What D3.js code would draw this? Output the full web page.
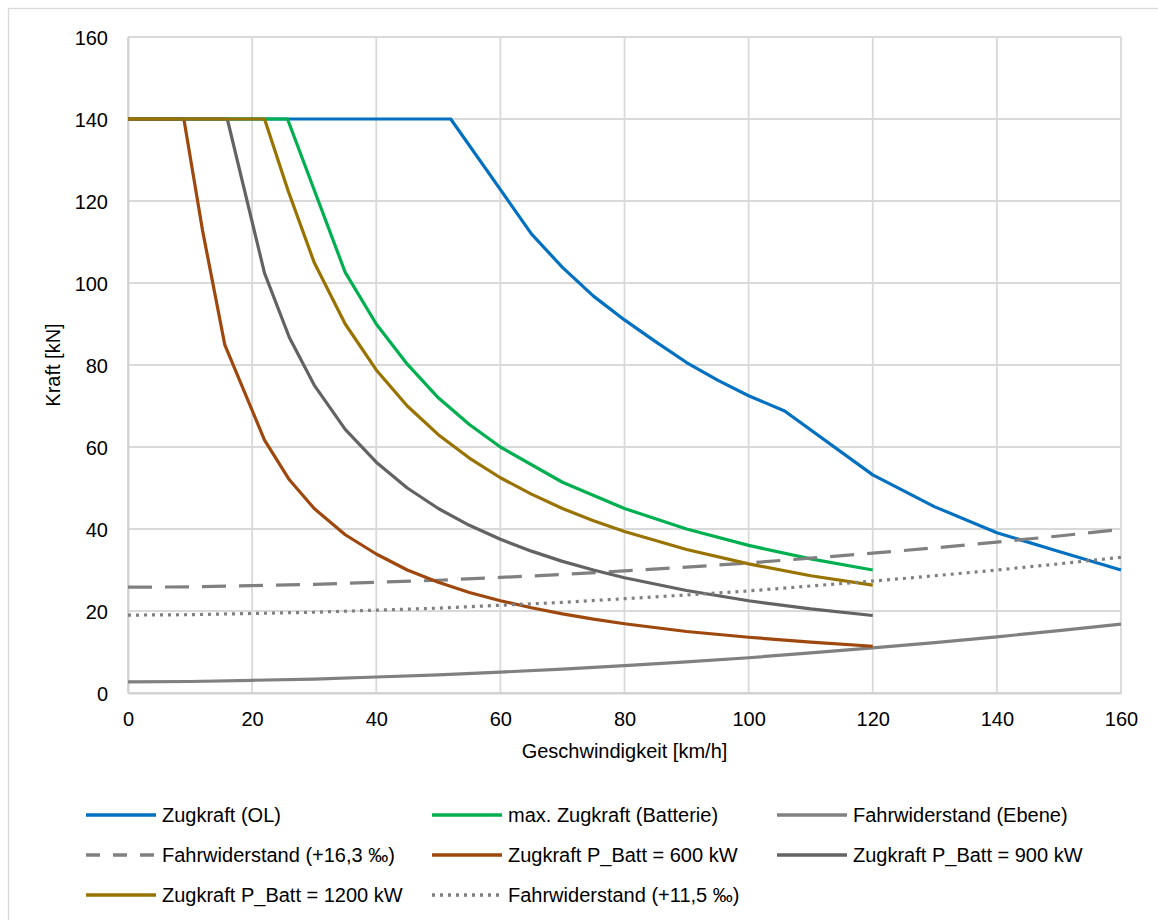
<!DOCTYPE html>
<html>
<head>
<meta charset="utf-8">
<script src="https://cdnjs.cloudflare.com/ajax/libs/d3/7.8.5/d3.min.js"></script>
<style>
  html, body { margin: 0; padding: 0; background: #ffffff; }
  svg { display: block; }
  text { font-family: "Liberation Sans", Arial, sans-serif; fill: #000; }
</style>
</head>
<body>
<svg id="chart" width="1158" height="920"></svg>
<script>
// ---- data ----
const xTicks = [0, 20, 40, 60, 80, 100, 120, 140, 160];
const yTicks = [0, 20, 40, 60, 80, 100, 120, 140, 160];

const speedOL = [0, 52, 65, 70, 75, 80, 85, 90, 95, 100, 105.8, 120, 130, 140, 150, 160];
const forceOL = [140, 140, 112, 103.8, 96.8, 91, 85.7, 80.6, 76.3, 72.5, 68.8, 53.2, 45.4, 39.1, 34.5, 30.0];

const speedBatt = [0, 25.7, 35, 40, 45, 50, 55, 60, 70, 80, 90, 100, 110, 120];
const forceBatt = [140, 140, 102.6, 90, 80.2, 72, 65.5, 60, 51.4, 45, 40, 36, 32.7, 30];

const speedRes = [0, 10, 20, 30, 40, 50, 60, 70, 80, 90, 100, 110, 120, 130, 140, 150, 160];
const resEbene = [2.7, 2.8, 3.1, 3.4, 3.9, 4.4, 5.1, 5.8, 6.7, 7.6, 8.6, 9.8, 11.0, 12.3, 13.7, 15.2, 16.8];
const res163 = [25.8, 25.9, 26.2, 26.5, 27.0, 27.5, 28.2, 28.9, 29.8, 30.7, 31.7, 32.9, 34.1, 35.4, 36.8, 38.3, 39.9];
const res115 = [19.0, 19.1, 19.4, 19.7, 20.2, 20.7, 21.4, 22.1, 23.0, 23.9, 24.9, 26.1, 27.3, 28.6, 30.0, 31.5, 33.1];

const speed600 = [0, 9, 12, 15.6, 22, 26, 30, 35, 40, 45, 50, 55, 60, 65, 70, 75, 80, 90, 100, 110, 120];
const force600 = [140, 140, 112.9, 84.9, 61.7, 52, 45, 38.6, 33.9, 30, 27, 24.5, 22.5, 20.8, 19.3, 18, 16.9, 15, 13.6, 12.4, 11.4];

const speed900 = [0, 16, 22, 26, 30, 35, 40, 45, 50, 55, 60, 65, 70, 75, 80, 90, 100, 110, 120];
const force900 = [140, 140, 102.4, 86.7, 75.1, 64.3, 56.3, 50, 45, 40.9, 37.5, 34.6, 32.1, 30, 28.1, 25, 22.5, 20.5, 18.9];

const speed1200 = [0, 22, 25.8, 30, 35, 40, 45, 50, 55, 60, 65, 70, 75, 80, 90, 100, 110, 120];
const force1200 = [140, 140, 122.5, 105, 90, 78.8, 70, 63, 57.3, 52.5, 48.5, 45, 42, 39.4, 35, 31.5, 28.6, 26.3];

const seriesNames = [
  "Zugkraft (OL)", "max. Zugkraft (Batterie)", "Fahrwiderstand (Ebene)",
  "Fahrwiderstand (+16,3 ‰)", "Zugkraft P_Batt = 600 kW", "Zugkraft P_Batt = 900 kW",
  "Zugkraft P_Batt = 1200 kW", "Fahrwiderstand (+11,5 ‰)"
];
const xTitle = "Geschwindigkeit [km/h]";
const yTitle = "Kraft [kN]";

(function draw() {
  const series = [
    { name: seriesNames[0], xs: speedOL, ys: forceOL, color: "#0070C0", dash: null, legDash: null },
    { name: seriesNames[1], xs: speedBatt, ys: forceBatt, color: "#00B050", dash: null, legDash: null },
    { name: seriesNames[2], xs: speedRes, ys: resEbene, color: "#808080", dash: null, legDash: null },
    { name: seriesNames[3], xs: speedRes, ys: res163, color: "#808080", dash: "24 13", legDash: "14 13" },
    { name: seriesNames[4], xs: speed600, ys: force600, color: "#9E480E", dash: null, legDash: null },
    { name: seriesNames[5], xs: speed900, ys: force900, color: "#636363", dash: null, legDash: null },
    { name: seriesNames[6], xs: speed1200, ys: force1200, color: "#997300", dash: null, legDash: null },
    { name: seriesNames[7], xs: speedRes, ys: res115, color: "#808080", dash: "3 5", legDash: "3 5" }
  ];

  const svg = d3.select("#chart");
  const pL = 128, pR = 1121, pT = 37, pB = 693;
  const x = d3.scaleLinear().domain([0, 160]).range([pL, pR]);
  const y = d3.scaleLinear().domain([0, 160]).range([pB, pT]);

  // outer border (top/left visible)
  svg.append("rect").attr("x", 8.5).attr("y", 8.5).attr("width", 1200).attr("height", 1000)
    .attr("fill", "none").attr("stroke", "#d9d9d9").attr("stroke-width", 1.3);

  // gridlines
  const grid = svg.append("g");
  grid.selectAll("line.h").data(yTicks).join("line").attr("class", "h")
    .attr("x1", pL).attr("x2", pR).attr("y1", d => y(d)).attr("y2", d => y(d))
    .attr("stroke", "#d9d9d9").attr("stroke-width", 1.8);
  grid.selectAll("line.v").data(xTicks).join("line").attr("class", "v")
    .attr("y1", pT).attr("y2", pB).attr("x1", d => x(d)).attr("x2", d => x(d))
    .attr("stroke", "#d9d9d9").attr("stroke-width", 1.8);

  // axes
  const xAxis = d3.axisBottom(x).tickValues(xTicks).tickSize(0).tickPadding(0);
  const gx = svg.append("g").attr("transform", `translate(0,${pB})`).call(xAxis);
  gx.select(".domain").attr("stroke", "#d0d0d0").attr("stroke-width", 1.8);
  gx.selectAll("text").attr("y", 33).attr("dy", null).style("font-size", "20px");

  const yAxis = d3.axisLeft(y).tickValues(yTicks).tickSize(0).tickPadding(0);
  const gy = svg.append("g").attr("transform", `translate(${pL},0)`).call(yAxis);
  gy.select(".domain").attr("stroke", "#d0d0d0").attr("stroke-width", 1.8);
  gy.selectAll("text").attr("x", -20).attr("dy", "0.35em").style("font-size", "20px");
  svg.selectAll("g[font-family]").attr("font-family", null);
  svg.selectAll(".tick text").attr("fill", "#000");

  // axis titles
  svg.append("text").attr("x", (pL + pR) / 2).attr("y", 758)
    .attr("text-anchor", "middle").style("font-size", "20px").text(xTitle);
  svg.append("text").attr("transform", "translate(60,365) rotate(-90)")
    .attr("text-anchor", "middle").style("font-size", "20px").text(yTitle);

  // lines
  const line = d3.line().x(d => x(d[0])).y(d => y(d[1]));
  const lines = svg.append("g");
  series.forEach(s => {
    const pts = s.xs.map((v, i) => [v, s.ys[i]]);
    lines.append("path").datum(pts).attr("d", line)
      .attr("fill", "none").attr("stroke", s.color).attr("stroke-width", 3.2)
      .attr("stroke-linejoin", "round")
      .attr("stroke-dasharray", s.dash);
  });

  // legend
  const colX = [86, 432, 777];
  const rowY = [815, 855, 895];
  const leg = svg.append("g");
  series.forEach((s, i) => {
    const cx = colX[i % 3], cy = rowY[Math.floor(i / 3)];
    leg.append("line").attr("x1", cx).attr("x2", cx + 70).attr("y1", cy).attr("y2", cy)
      .attr("stroke", s.color).attr("stroke-width", 3.5).attr("stroke-dasharray", s.legDash);
    leg.append("text").attr("x", cx + 76).attr("y", cy + 7).style("font-size", "20px").text(s.name);
  });
})();
</script>
</body>
</html>
